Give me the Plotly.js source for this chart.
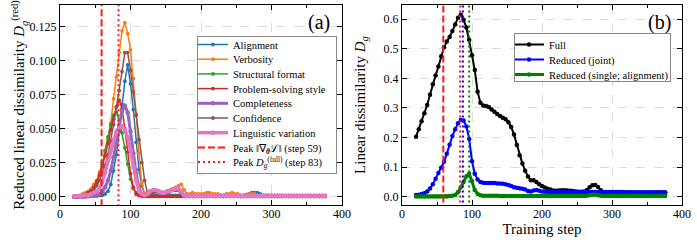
<!DOCTYPE html>
<html>
<head>
<meta charset="utf-8">
<script src="https://cdn.plot.ly/plotly-3.0.1.min.js"></script>
<style>html,body{margin:0;padding:0;background:#fff;}#chart{width:697px;height:240px;}</style>
</head>
<body>
<div id="chart"></div>
<script>
// Training steps (shared x grid)
const steps = [20,24,28,32,36,40,44,48,52,56,
  60,64,68,72,76,80,84,88,92,96,
  100,104,108,112,116,120,124,128,132,136,
  140,144,148,152,156,160,164,168,172,176,
  180,184,188,192,196,200,204,208,212,216,
  220,224,228,232,236,240,244,248,252,256,
  260,264,268,272,276,280,284,288,292,296,
  300,304,308,312,316,320,324,328,332,336,
  340,344,348,352,356,360,364,368,372,376];

// Panel (a): reduced linear dissimilarity per property
const alignment = [0.0005,0.0005,0.0005,0.0005,0.0005,0.0005,0.0005,0.0005,0.0005,0.0008,
  0.001,0.002,0.004,0.009,0.019,0.031,0.048,0.068,0.085,0.097,
  0.083,0.064,0.040,0.020,0.008,0.002,0.001,0.001,0.001,0.001,
  0.001,0.001,0.001,0.001,0.001,0.001,0.001,0.001,0.001,0.001,
  0.001,0.001,0.001,0.001,0.001,0.001,0.001,0.001,0.001,0.001,
  0.001,0.001,0.001,0.001,0.001,0.001,0.001,0.001,0.001,0.001,
  0.001,0.0015,0.002,0.003,0.003,0.003,0.002,0.001,0.001,0.001,
  0.001,0.001,0.001,0.001,0.0008,0.0008,0.0008,0.0008,0.0008,0.0008,
  0.0008,0.0008,0.0008,0.0008,0.0008,0.0008,0.0008,0.0008,0.0008,0.0008];
const verbosity = [0.0003,0.0005,0.001,0.002,0.003,0.004,0.006,0.009,0.012,0.018,
  0.024,0.033,0.043,0.054,0.072,0.088,0.106,0.122,0.128,0.120,
  0.108,0.087,0.061,0.032,0.010,0.002,0.002,0.002,0.004,0.004,
  0.004,0.003,0.003,0.004,0.005,0.006,0.007,0.008,0.009,0.005,
  0.002,0.002,0.003,0.002,0.002,0.002,0.002,0.003,0.003,0.002,
  0.002,0.002,0.001,0.001,0.002,0.002,0.003,0.002,0.002,0.001,
  0.001,0.001,0.002,0.002,0.002,0.001,0.001,0.001,0.001,0.001,
  0.001,0.001,0.001,0.001,0.001,0.001,0.001,0.001,0.001,0.001,
  0.001,0.001,0.001,0.001,0.001,0.001,0.001,0.001,0.001,0.001];
const structural = [0,0,0.0005,0.001,0.0015,0.002,0.004,0.006,0.009,0.016,
  0.024,0.034,0.044,0.053,0.060,0.062,0.056,0.047,0.036,0.024,
  0.013,0.006,0.003,0.001,0.0005,0.0003,0.0003,0.0003,0.0003,0.0003,
  0.0003,0.0003,0.0003,0.0003,0.0003,0.0003,0.0003,0.0003,0.0003,0.0003,
  0.0003,0.0003,0.0003,0.0003,0.0003,0.0003,0.0003,0.0003,0.0003,0.0003,
  0.0003,0.0003,0.0003,0.0003,0.0003,0.0003,0.0003,0.0003,0.0003,0.0003,
  0.0003,0.0003,0.0003,0.0003,0.0003,0.0003,0.0003,0.0003,0.0003,0.0003,
  0.0003,0.0003,0.0003,0.0003,0.0003,0.0003,0.0003,0.0003,0.0003,0.0003,
  0.0003,0.0003,0.0003,0.0003,0.0003,0.0003,0.0003,0.0003,0.0003,0.0003];
const problemSolving = [0,0,0.0005,0.001,0.0015,0.003,0.004,0.007,0.011,0.016,
  0.022,0.030,0.039,0.049,0.057,0.066,0.071,0.065,0.050,0.033,
  0.017,0.007,0.002,0.001,0.0005,0.0003,0.0003,0.0003,0.0003,0.0003,
  0.0003,0.0003,0.0003,0.0003,0.0003,0.0003,0.0003,0.0003,0.0003,0.0003,
  0.0003,0.0003,0.0003,0.0003,0.0003,0.0003,0.0003,0.0003,0.0003,0.0003,
  0.0003,0.0003,0.0003,0.0003,0.0003,0.0003,0.0003,0.0003,0.0003,0.0003,
  0.0003,0.0003,0.0003,0.0003,0.0003,0.0003,0.0003,0.0003,0.0003,0.0003,
  0.0003,0.0003,0.0003,0.0003,0.0003,0.0003,0.0003,0.0003,0.0003,0.0003,
  0.0003,0.0003,0.0003,0.0003,0.0003,0.0003,0.0003,0.0003,0.0003,0.0003];
const completeness = [0,0,0,0,0,0.0003,0.0005,0.0005,0.001,0.002,
  0.004,0.007,0.012,0.019,0.029,0.040,0.053,0.063,0.067,0.062,
  0.048,0.032,0.017,0.007,0.002,0.001,0.002,0.003,0.004,0.004,
  0.003,0.003,0.003,0.003,0.004,0.005,0.005,0.005,0.003,0.001,
  0.0005,0.0005,0.0005,0.0005,0.0005,0.0005,0.0005,0.0005,0.0005,0.0005,
  0.0005,0.0005,0.0005,0.0005,0.0005,0.0005,0.0005,0.0005,0.0005,0.0005,
  0.0005,0.0005,0.0005,0.0005,0.0005,0.0005,0.0005,0.0005,0.0005,0.0005,
  0.0005,0.0005,0.0005,0.0005,0.0005,0.0005,0.0005,0.0005,0.0005,0.0005,
  0.0005,0.0005,0.0005,0.0005,0.0005,0.0005,0.0005,0.0005,0.0005,0.0005];
const confidence = [0,0,0.0005,0.001,0.001,0.002,0.003,0.005,0.008,0.012,
  0.017,0.023,0.031,0.041,0.053,0.066,0.078,0.092,0.106,0.106,
  0.093,0.077,0.060,0.042,0.025,0.012,0.003,0.002,0.003,0.004,
  0.004,0.003,0.003,0.003,0.004,0.005,0.005,0.006,0.004,0.001,
  0.0005,0.0005,0.0005,0.0005,0.0005,0.0005,0.0005,0.0005,0.0005,0.0005,
  0.0005,0.0005,0.0005,0.0005,0.0005,0.0005,0.0005,0.0005,0.0005,0.0005,
  0.0005,0.0005,0.0005,0.0005,0.0005,0.0005,0.0005,0.0005,0.0005,0.0005,
  0.0005,0.0005,0.0005,0.0005,0.0005,0.0005,0.0005,0.0005,0.0005,0.0005,
  0.0005,0.0005,0.0005,0.0005,0.0005,0.0005,0.0005,0.0005,0.0005,0.0005];
const linguistic = [0.0005,0.0005,0.0005,0.001,0.001,0.001,0.002,0.003,0.004,0.006,
  0.011,0.018,0.026,0.034,0.042,0.048,0.051,0.052,0.049,0.044,
  0.034,0.022,0.012,0.005,0.002,0.001,0.002,0.004,0.005,0.005,
  0.004,0.003,0.003,0.004,0.004,0.005,0.006,0.006,0.004,0.001,
  0.0005,0.0005,0.0005,0.0005,0.0005,0.0005,0.0005,0.0005,0.0005,0.0005,
  0.0005,0.0005,0.0005,0.0005,0.0005,0.0005,0.0005,0.0005,0.0005,0.0005,
  0.0005,0.0005,0.0005,0.0005,0.0005,0.0005,0.0005,0.0005,0.0005,0.0005,
  0.0005,0.0005,0.0005,0.0005,0.0005,0.0005,0.0005,0.0005,0.0005,0.0005,
  0.0005,0.0005,0.0005,0.0005,0.0005,0.0005,0.0005,0.0005,0.0005,0.0005];

// Panel (b): linear dissimilarity
const full = [0.203,0.228,0.255,0.282,0.310,0.345,0.380,0.410,0.440,0.475,
  0.505,0.525,0.540,0.560,0.582,0.605,0.615,0.598,0.572,0.530,
  0.478,0.428,0.355,0.318,0.308,0.307,0.303,0.295,0.287,0.280,
  0.273,0.267,0.262,0.252,0.236,0.210,0.175,0.140,0.112,0.088,
  0.068,0.056,0.056,0.050,0.042,0.036,0.031,0.027,0.024,0.021,
  0.020,0.021,0.022,0.022,0.021,0.020,0.019,0.018,0.017,0.017,
  0.018,0.022,0.032,0.039,0.040,0.033,0.022,0.015,0.013,0.013,
  0.013,0.013,0.013,0.013,0.013,0.013,0.013,0.013,0.013,0.013,
  0.013,0.013,0.013,0.013,0.013,0.013,0.013,0.013,0.013,0.013];
const reducedJoint = [0.006,0.007,0.009,0.012,0.018,0.028,0.042,0.061,0.080,0.098,
  0.118,0.145,0.176,0.205,0.228,0.248,0.259,0.258,0.237,0.195,
  0.120,0.078,0.058,0.050,0.047,0.046,0.046,0.046,0.046,0.045,
  0.045,0.044,0.042,0.040,0.036,0.032,0.030,0.029,0.027,0.024,
  0.019,0.018,0.021,0.023,0.020,0.018,0.017,0.017,0.016,0.016,
  0.016,0.016,0.016,0.016,0.016,0.016,0.016,0.016,0.016,0.016,
  0.016,0.016,0.016,0.016,0.016,0.016,0.016,0.016,0.016,0.016,
  0.016,0.016,0.016,0.016,0.016,0.015,0.015,0.015,0.015,0.015,
  0.015,0.015,0.015,0.015,0.015,0.015,0.015,0.015,0.015,0.015];
const reducedSingle = [0.001,0.001,0.001,0.001,0.001,0.001,0.001,0.001,0.001,0.001,
  0.001,0.001,0.002,0.003,0.006,0.015,0.032,0.050,0.069,0.078,
  0.053,0.023,0.010,0.005,0.003,0.003,0.003,0.003,0.003,0.003,
  0.002,0.002,0.002,0.002,0.002,0.002,0.002,0.002,0.002,0.002,
  0.002,0.002,0.002,0.002,0.002,0.002,0.002,0.002,0.002,0.002,
  0.002,0.002,0.002,0.002,0.002,0.002,0.002,0.002,0.002,0.002,
  0.002,0.003,0.005,0.007,0.007,0.005,0.003,0.002,0.002,0.002,
  0.002,0.002,0.002,0.002,0.002,0.002,0.002,0.002,0.002,0.002,
  0.002,0.002,0.002,0.002,0.002,0.002,0.002,0.002,0.002,0.002];

// Peak steps (vertical reference lines)
const peakGradStep = 59;
const peakFullStep = 83;
const peakJointStep = 87;
const peakSingleStep = 96;

const namesA = ['Alignment','Verbosity','Structural format','Problem-solving style','Completeness','Confidence','Linguistic variation'];
const seriesA = [alignment, verbosity, structural, problemSolving, completeness, confidence, linguistic];
const colorsA = ['#1f77b4','#ff7f0e','#2ca02c','#d62728','#9467bd','#8c564b','#e377c2'];
const widthsA = [1.5,1.5,1.5,1.5,3,1.5,3.5];

const traces = [];
seriesA.forEach((s,i)=>{
  traces.push({x:steps, y:s, name:namesA[i], type:'scatter', mode:'lines+markers',
    line:{color:colorsA[i], width:widthsA[i]}, marker:{color:colorsA[i], size:widthsA[i]>2?4.5:3.8},
    xaxis:'x', yaxis:'y', legend:'legend'});
});
traces.push({x:[peakGradStep,peakGradStep], y:[-1,1], mode:'lines', name:'Peak ‖∇<sub><b><i>θ</i></b></sub>ℒ‖ (step 59)',
  line:{color:'#ff1a1a', width:2, dash:'7px,3px'}, xaxis:'x', yaxis:'y', legend:'legend'});
traces.push({x:[peakFullStep,peakFullStep], y:[-1,1], mode:'lines', name:'Peak <i>D</i><sub><i>g</i></sub><sup>(full)</sup> (step 83)',
  line:{color:'#ff1a1a', width:2, dash:'2px,3px'}, xaxis:'x', yaxis:'y', legend:'legend'});

const namesB = ['Full','Reduced (joint)','Reduced (single; alignment)'];
const seriesB = [full, reducedJoint, reducedSingle];
const colorsB = ['#000000','#0000ff','#008000'];
const widthsB = [2,2,3];
seriesB.forEach((s,i)=>{
  traces.push({x:steps, y:s, name:namesB[i], type:'scatter', mode:'lines+markers',
    line:{color:colorsB[i], width:widthsB[i]}, marker:{color:colorsB[i], size:4.5},
    xaxis:'x2', yaxis:'y2', legend:'legend2'});
});
[[peakGradStep,'#ff1a1a','7px,3px'],[peakFullStep,'#ff1a1a','2px,3px'],[peakJointStep,'#0000ff','2px,3px'],[peakSingleStep,'#008000','2px,3px']].forEach(v=>{
  traces.push({x:[v[0],v[0]], y:[-1,1], mode:'lines', showlegend:false,
    line:{color:v[1], width:2, dash:v[2]}, xaxis:'x2', yaxis:'y2'});
});

const FONT = 'Liberation Serif, Times New Roman, serif';
const axisBase = {
  showline:true, linecolor:'#000', linewidth:1, mirror:'allticks',
  ticks:'inside', ticklen:5, tickwidth:1, tickcolor:'#000',
  showgrid:true, gridcolor:'#dcdcdc', griddash:'dash', gridwidth:1,
  zeroline:false, tickfont:{family:FONT, size:12, color:'#000'}
};
const W=697, H=240;
const layout = {
  width:W, height:H, margin:{l:0,r:0,t:0,b:0},
  paper_bgcolor:'#fff', plot_bgcolor:'#fff',
  font:{family:FONT, size:12, color:'#000'},
  xaxis:Object.assign({}, axisBase, {domain:[60/W,342/W], range:[0,400], tickvals:[0,100,200,300,400], anchor:'y', ticklabelstandoff:-2,
    minor:{ticks:'inside', ticklen:3, dtick:50, tick0:0, tickcolor:'#000', showgrid:false}}),
  yaxis:Object.assign({}, axisBase, {domain:[35/H,235/H], range:[-0.0061,0.141], tickvals:[0,0.025,0.05,0.075,0.1,0.125], tickformat:'.3f', anchor:'x',
    title:{text:'Reduced linear dissimilarity <i>D</i><sub><i>g</i></sub><sup>(red)</sup>', font:{family:FONT,size:15}, standoff:0}}),
  xaxis2:Object.assign({}, axisBase, {domain:[402/W,682/W], range:[0,400], tickvals:[0,100,200,300,400], anchor:'y2', ticklabelstandoff:-2,
    minor:{ticks:'inside', ticklen:3, dtick:50, tick0:0, tickcolor:'#000', showgrid:false},
    title:{text:'Training step', font:{family:FONT,size:15}, standoff:0}}),
  yaxis2:Object.assign({}, axisBase, {domain:[35/H,235/H], range:[-0.028,0.648], tickvals:[0,0.1,0.2,0.3,0.4,0.5,0.6], tickformat:'.1f', anchor:'x2',
    title:{text:'Linear dissimilarity <i>D</i><sub><i>g</i></sub>', font:{family:FONT,size:15}, standoff:14}}),
  legend:{x:197/W, y:(H-36)/H, xanchor:'left', yanchor:'top', bordercolor:'#888', borderwidth:1, bgcolor:'rgba(255,255,255,0.92)',
    font:{family:FONT,size:10.5,color:'#000'}, itemwidth:30, tracegroupgap:0, traceorder:'normal'},
  legend2:{x:514/W, y:(H-33)/H, xanchor:'left', yanchor:'top', bordercolor:'#888', borderwidth:1, bgcolor:'rgba(255,255,255,0.92)',
    font:{family:FONT,size:10.5,color:'#000'}, itemwidth:30, tracegroupgap:0, traceorder:'normal'},
  annotations:[
    {text:'(a)', xref:'paper', yref:'paper', x:332/W, y:(H-22)/H, xanchor:'right', yanchor:'middle', showarrow:false, font:{family:FONT,size:20,color:'#000'}},
    {text:'(b)', xref:'paper', yref:'paper', x:673/W, y:(H-22)/H, xanchor:'right', yanchor:'middle', showarrow:false, font:{family:FONT,size:20,color:'#000'}}
  ],
  showlegend:true
};

// Tighten legend rows to match the reference (Plotly enforces a 19px minimum row)
function compactLegend(cls, spacing, dx, dy, extraH, shrinkW){
  const g = document.querySelector('g.' + cls);
  if(!g) return;
  let items = g.querySelectorAll('g.groups');
  if(items.length < 2) items = g.querySelectorAll('g.traces');
  if(items.length < 2) return;
  const parse = el => {
    const m = /translate\(\s*([-\d.e]+)[\s,]+([-\d.e]+)\s*\)/.exec(el.getAttribute('transform') || '');
    return m ? [parseFloat(m[1]), parseFloat(m[2])] : [0, 0];
  };
  const p0 = parse(items[0]), p1 = parse(items[1]);
  const old = p1[1] - p0[1];
  if(!(old > spacing)) return;
  items.forEach((it, i) => {
    const p = parse(it);
    it.setAttribute('transform', 'translate(' + (p[0] + dx) + ',' + (p0[1] + dy + i * spacing) + ')');
  });
  const shrink = (old - spacing) * (items.length - 1) + extraH;
  const bg = g.querySelector('rect.bg');
  if(bg){
    bg.setAttribute('height', parseFloat(bg.getAttribute('height')) - shrink);
    bg.setAttribute('width', parseFloat(bg.getAttribute('width')) - shrinkW);
  }
}

Plotly.newPlot('chart', traces, layout, {displayModeBar:false, staticPlot:true}).then(() => {
  compactLegend('legend', 14.7, -5, -7, 11, 0);
  compactLegend('legend2', 15, -6, -4, 12, 10);
});
</script>
</body>
</html>
